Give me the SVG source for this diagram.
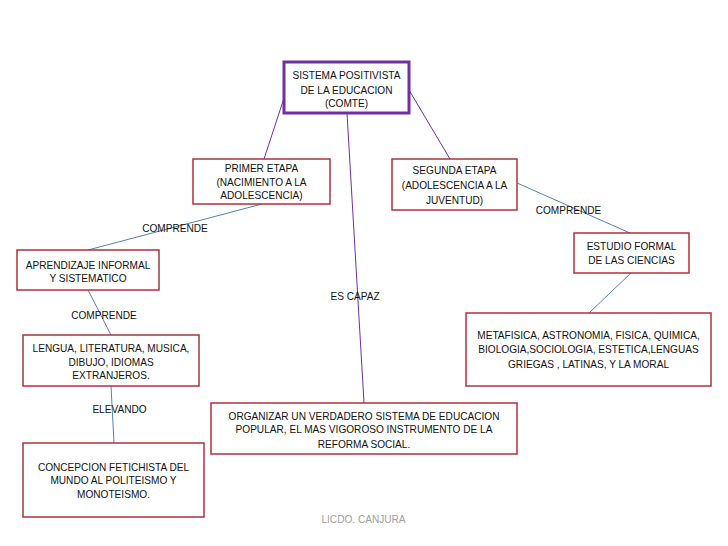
<svg xmlns="http://www.w3.org/2000/svg" width="728" height="546" viewBox="0 0 728 546">
<style>
.bg{fill:#ffffff}
.box{fill:#ffffff;stroke:#b0303a;stroke-width:1.5}
.main{fill:#ffffff;stroke:#7030a0;stroke-width:3}
.t{font-family:"Liberation Sans",Arial,sans-serif;font-size:10.1px;fill:#111111;text-anchor:middle}
.lbl{font-family:"Liberation Sans",Arial,sans-serif;font-size:10.1px;fill:#111111;text-anchor:middle}
.foot{font-family:"Liberation Sans",Arial,sans-serif;font-size:10.1px;fill:#a0a0a0;text-anchor:middle}
.cp{stroke:#7030a0;stroke-width:1;fill:none}
.cb{stroke:#4f81bd;stroke-width:1;fill:none}
</style>
<rect class="bg" x="0" y="0" width="728" height="546"/>
<g id="connectors">
<line class="cp" x1="286" y1="92" x2="264" y2="159"/>
<line class="cp" x1="409" y1="90" x2="450" y2="159"/>
<line class="cp" x1="347" y1="113" x2="364" y2="403"/>
<line class="cb" x1="262" y1="204" x2="88" y2="250"/>
<line class="cb" x1="88" y1="290" x2="111" y2="335"/>
<line class="cb" x1="111" y1="386" x2="114" y2="443"/>
<line class="cb" x1="517" y1="183" x2="630" y2="233"/>
<line class="cb" x1="631" y1="273" x2="589" y2="313"/>
</g>
<g id="labels">
<text class="lbl" x="175" y="231.5">COMPRENDE</text>
<text class="lbl" x="104" y="318.5">COMPRENDE</text>
<text class="lbl" x="119.5" y="412.5">ELEVANDO</text>
<text class="lbl" x="568.5" y="213.5">COMPRENDE</text>
<text class="lbl" x="355" y="299.5">ES CAPAZ</text>
</g>
<g id="n-main">
<rect class="main" x="284" y="62" width="125" height="51"/>
<text class="t" x="346.5" y="79">SISTEMA POSITIVISTA</text>
<text class="t" x="346.5" y="93.5">DE LA EDUCACION</text>
<text class="t" x="346.5" y="107">(COMTE)</text>
</g>
<g id="n-primer">
<rect class="box" x="193" y="159" width="137" height="45"/>
<text class="t" x="261.5" y="171.5">PRIMER ETAPA</text>
<text class="t" x="261.5" y="185.5">(NACIMIENTO A LA</text>
<text class="t" x="261.5" y="199">ADOLESCENCIA)</text>
</g>
<g id="n-segunda">
<rect class="box" x="392" y="159" width="125" height="51"/>
<text class="t" x="454.5" y="173.5">SEGUNDA ETAPA</text>
<text class="t" x="454.5" y="188.5">(ADOLESCENCIA A LA</text>
<text class="t" x="454.5" y="203.5">JUVENTUD)</text>
</g>
<g id="n-aprendizaje">
<rect class="box" x="17" y="250" width="142" height="40"/>
<text class="t" x="88" y="268.5">APRENDIZAJE INFORMAL</text>
<text class="t" x="88" y="281.5">Y SISTEMATICO</text>
</g>
<g id="n-lengua">
<rect class="box" x="23" y="335" width="176" height="51"/>
<text class="t" x="111" y="351.5">LENGUA, LITERATURA, MUSICA,</text>
<text class="t" x="111" y="365.5">DIBUJO, IDIOMAS</text>
<text class="t" x="111" y="378.5">EXTRANJEROS.</text>
</g>
<g id="n-concepcion">
<rect class="box" x="23" y="443" width="181" height="74"/>
<text class="t" x="113.5" y="470.5">CONCEPCION FETICHISTA DEL</text>
<text class="t" x="113.5" y="484">MUNDO AL POLITEISMO Y</text>
<text class="t" x="113.5" y="497.5">MONOTEISMO.</text>
</g>
<g id="n-estudio">
<rect class="box" x="574" y="233" width="115" height="40"/>
<text class="t" x="631.5" y="249.5">ESTUDIO FORMAL</text>
<text class="t" x="631.5" y="263.5">DE LAS CIENCIAS</text>
</g>
<g id="n-metafisica">
<rect class="box" x="466" y="313" width="245" height="73"/>
<text class="t" x="588.5" y="338.5">METAFISICA, ASTRONOMIA, FISICA, QUIMICA,</text>
<text class="t" x="588.5" y="352.5">BIOLOGIA,SOCIOLOGIA, ESTETICA,LENGUAS</text>
<text class="t" x="588.5" y="367.5">GRIEGAS , LATINAS, Y LA MORAL</text>
</g>
<g id="n-organizar">
<rect class="box" x="211" y="403" width="306" height="51"/>
<text class="t" x="364" y="419.5">ORGANIZAR UN VERDADERO SISTEMA DE EDUCACION</text>
<text class="t" x="364" y="433">POPULAR, EL MAS VIGOROSO INSTRUMENTO DE LA</text>
<text class="t" x="364" y="447.5">REFORMA SOCIAL.</text>
</g>
<text class="foot" x="363.5" y="522.5">LICDO. CANJURA</text>
</svg>
